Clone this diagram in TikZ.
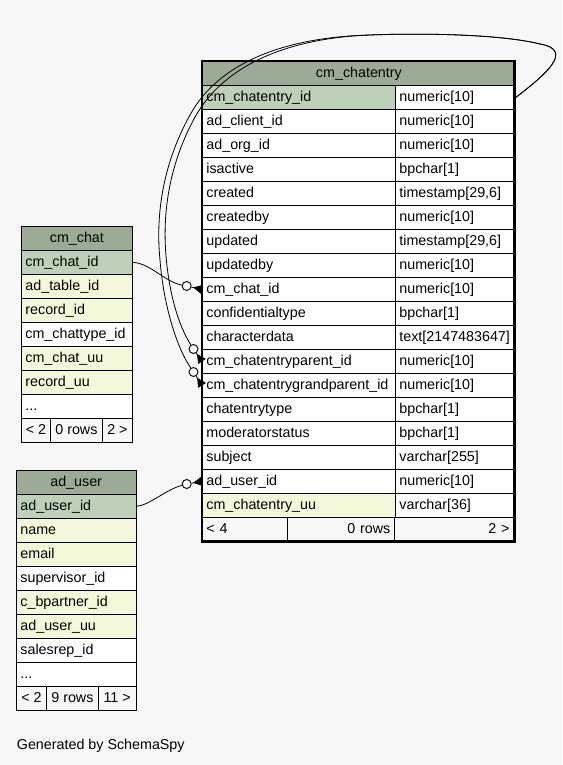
\documentclass[tikz,border=0pt]{standalone}
\usepackage{fontspec}
\setmainfont{Liberation Sans}
\usetikzlibrary{arrows.meta}
\definecolor{bgc}{HTML}{F7F7F7}
\definecolor{hdc}{HTML}{9BAB96}
\definecolor{pkc}{HTML}{BED1B8}
\definecolor{idc}{HTML}{F4F7DA}
\newcommand\tblmore{...}
\begin{document}
\begin{tikzpicture}[x=1pt,y=-1pt,
  every node/.style={font=\fontsize{14.3}{17}\selectfont},
  cell/.style={draw=black, line width=0.8pt, minimum height=24pt, inner xsep=4pt, inner ysep=0pt,
    text height=10.4pt, text depth=3pt, anchor=north west},
  lcell/.style={cell, align=left, text width=#1},
  rcell/.style={cell, align=right, text width=#1},
  hcell/.style={cell, fill=hdc, inner xsep=0pt},
  fcell/.style={cell, fill=bgc, inner xsep=0pt},
  conn/.style={draw=black, line width=0.8pt},
  crow/.style={draw=black, line width=0.8pt, -{Triangle[reversed,length=9pt,width=9pt]}},
  endc/.style={circle, draw=black, line width=0.9pt, fill=bgc, minimum size=9pt, inner sep=0pt},
  frame/.style={draw=black, line width=2.8pt}
]
\useasboundingbox (0,0) rectangle (562,765);
\fill[bgc] (0,0) rectangle (562,765);

% ---------- cm_chatentry ----------
\node[hcell, minimum width=313pt] (ce-h) at (202,61) {cm\_chatentry};
\foreach \k/\a/\b/\c in {
  1/cm\_chatentry\_id/numeric[10]/pkc,
  2/ad\_client\_id/numeric[10]/white,
  3/ad\_org\_id/numeric[10]/white,
  4/isactive/bpchar[1]/white,
  5/created/{timestamp[29,6]}/white,
  6/createdby/numeric[10]/white,
  7/updated/{timestamp[29,6]}/white,
  8/updatedby/numeric[10]/white,
  9/cm\_chat\_id/numeric[10]/white,
  10/confidentialtype/bpchar[1]/white,
  11/characterdata/text[2147483647]/white,
  12/cm\_chatentryparent\_id/numeric[10]/white,
  13/cm\_chatentrygrandparent\_id/numeric[10]/white,
  14/chatentrytype/bpchar[1]/white,
  15/moderatorstatus/bpchar[1]/white,
  16/subject/varchar[255]/white,
  17/ad\_user\_id/numeric[10]/white,
  18/cm\_chatentry\_uu/varchar[36]/idc}{
  \node[lcell=185pt, fill=\c] (ce-l\k) at ({202},{85+24*(\k-1)}) {\a};
  \node[lcell=112pt, fill=white] (ce-t\k) at ({395},{85+24*(\k-1)}) {\b};
}
\node[lcell=77pt, fill=bgc] (ce-f1) at (202,517) {< 4};
\node[rcell=99pt, fill=bgc] (ce-f2) at (287,517) {0 rows};
\node[rcell=112pt, fill=bgc, inner xsep=5pt, text width=110pt] (ce-f3) at (394,517) {2 >};

% ---------- cm_chat ----------
\node[hcell, minimum width=111pt] (cc-h) at (21,226) {cm\_chat};
\foreach \k/\a/\c in {
  1/cm\_chat\_id/pkc,
  2/ad\_table\_id/idc,
  3/record\_id/idc,
  4/cm\_chattype\_id/white,
  5/cm\_chat\_uu/idc,
  6/record\_uu/idc,
  7/\tblmore/white}{
  \node[lcell=103pt, fill=\c] (cc-r\k) at ({21},{250+24*(\k-1)}) {\a};
}
\node[fcell, minimum width=29pt] (cc-f1) at (21,418) {< 2};
\node[fcell, minimum width=52pt] (cc-f2) at (50,418) {0 rows};
\node[fcell, minimum width=30pt] (cc-f3) at (102,418) {2 >};

% ---------- ad_user ----------
\node[hcell, minimum width=119.5pt] (au-h) at (16,470) {ad\_user};
\foreach \k/\a/\c in {
  1/ad\_user\_id/pkc,
  2/name/idc,
  3/email/idc,
  4/supervisor\_id/white,
  5/c\_bpartner\_id/idc,
  6/ad\_user\_uu/idc,
  7/salesrep\_id/white,
  8/\tblmore/white}{
  \node[lcell=111.5pt, fill=\c] (au-r\k) at ({16},{494+24*(\k-1)}) {\a};
}
\node[fcell, minimum width=30pt] (au-f1) at (16,686) {< 2};
\node[fcell, minimum width=52pt] (au-f2) at (46,686) {9 rows};
\node[fcell, minimum width=37.5pt] (au-f3) at (98,686) {11 >};

% ---------- relationship end circles ----------
\node[endc] (c1) at (186.7,286) {};
\node[endc] (c2) at (186.7,484) {};
\node[endc] (cpp) at (193.5,349) {};
\node[endc] (cgp) at (193.5,372) {};

% ---------- connectors ----------
\draw[conn] (cc-r1.east) .. controls (150,263) and (165,282) .. (c1);
\draw[crow] (c1) -- (ce-l9.west);

\draw[conn] (au-r1.east) .. controls (150,505) and (165,490) .. (c2);
\draw[crow] (c2) -- (ce-l17.west);

\draw[conn] (ce-t1.east) .. controls (545,75) and (575,50) .. (540,44)
  .. controls (500,34) and (420,33) .. (370,35)
  .. controls (290,37) and (220,60) .. (190,115)
  .. controls (165,160) and (155,210) .. (160,260)
  .. controls (163,300) and (175,345) .. (cgp);
\draw[crow] (cgp) -- (ce-l13.west);

\draw[conn] (ce-t1.east) .. controls (545,75) and (575,50) .. (540,44)
  .. controls (500,34) and (420,33) .. (370,35)
  .. controls (293,38) and (226,62) .. (195,117)
  .. controls (171,161) and (162,208) .. (166,256)
  .. controls (169,292) and (178,325) .. (cpp);
\draw[crow] (cpp) -- (ce-l12.west);

% ---------- focus table frame ----------
\draw[frame] (ce-h.north west) rectangle (ce-f3.south east);

\node[anchor=base west, inner sep=0pt] (gen) at (16.7,749.5) {Generated by SchemaSpy};
\end{tikzpicture}
\end{document}
